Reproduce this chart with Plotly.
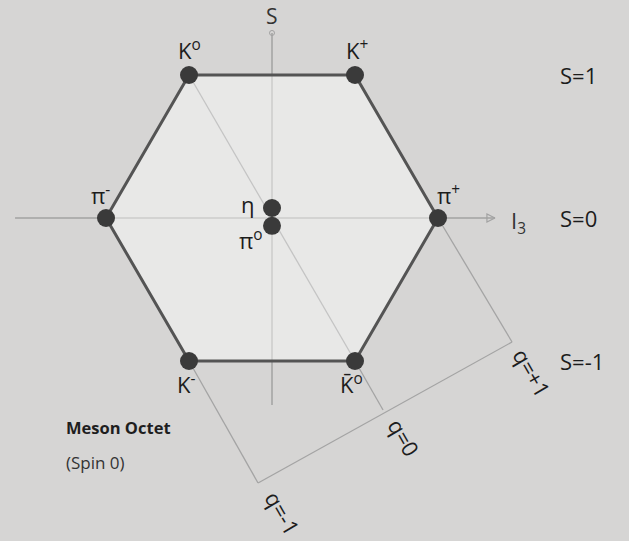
import plotly.graph_objects as go

# Meson octet (spin 0): isospin I3, strangeness S
names = ["K<sup>o</sup>", "K<sup>+</sup>", "π<sup>-</sup>", "π<sup>+</sup>", "η", "π<sup>o</sup>", "K<sup>-</sup>", "K\u0304<sup>o</sup>"]
i3 = [-0.5, 0.5, -1.0, 1.0, 0.0, 0.0, -0.5, 0.5]
strange = [1, 1, 0, 0, 0.07, -0.055, -1, -1]
hex_order = [0, 1, 3, 7, 6, 2, 0]

s_levels = [1, 0, -1]
s_labels = ["S=1", "S=0", "S=-1"]

q_labels = ["q=+1", "q=0", "q=-1"]
q_from = [3, 7, 6]               # meson where each charge line starts
q_corner_i3 = [1.446, 0.669, -0.084]
q_corner_s = [-0.867, -1.343, -1.853]

label_shift = [(0, 26), (2, 26), (-6, 24), (10, 24), (-24, 4), (-21, -14), (-3, -22), (-4, -22)]

BG = "#d6d5d4"
AX = "#a2a2a2"
FONT = "Open Sans"
TXT = "#1c1c1c"

fig = go.Figure()

# axes
fig.add_trace(go.Scatter(x=[-1.548, 1.343], y=[0, 0], mode="lines",
                         line=dict(color=AX, width=1.5), hoverinfo="skip"))
fig.add_trace(go.Scatter(x=[0, 0], y=[-1.308, 1.294], mode="lines",
                         line=dict(color=AX, width=1.5), hoverinfo="skip"))
fig.add_trace(go.Scatter(x=[1.343], y=[0], mode="markers",
                         marker=dict(symbol="arrow-right-open", size=8, color=AX,
                                     line=dict(color=AX, width=1.2)), hoverinfo="skip"))
fig.add_trace(go.Scatter(x=[0], y=[1.294], mode="markers",
                         marker=dict(symbol="circle-open", size=5, color=AX,
                                     line=dict(color=AX, width=1)), hoverinfo="skip"))

# hexagon
fig.add_trace(go.Scatter(x=[i3[k] for k in hex_order], y=[strange[k] for k in hex_order],
                         mode="lines", fill="toself", fillcolor="rgba(255,255,255,0.45)",
                         line=dict(color="#545454", width=3), hoverinfo="skip"))

# diagonal K0 -> anti-K0
fig.add_trace(go.Scatter(x=[i3[0], i3[7]], y=[strange[0], strange[7]], mode="lines",
                         line=dict(color="#c4c4c4", width=1.3), hoverinfo="skip"))

# charge lines
for k in range(3):
    m = q_from[k]
    fig.add_trace(go.Scatter(x=[i3[m], q_corner_i3[k]], y=[strange[m], q_corner_s[k]],
                             mode="lines", line=dict(color="#a4a4a4", width=1.3), hoverinfo="skip"))
fig.add_trace(go.Scatter(x=[q_corner_i3[0], q_corner_i3[2]], y=[q_corner_s[0], q_corner_s[2]],
                         mode="lines", line=dict(color="#a4a4a4", width=1.3), hoverinfo="skip"))

# mesons
fig.add_trace(go.Scatter(x=i3, y=strange, mode="markers",
                         marker=dict(size=18, color="#3a3a3a"), hoverinfo="skip"))

ann = []
for k, n in enumerate(names):
    dx, dy = label_shift[k]
    ann.append(dict(x=i3[k], y=strange[k], text=n, showarrow=False, xshift=dx, yshift=dy,
                    font=dict(family=FONT, size=22, color=TXT)))

ann.append(dict(x=0, y=1.294, text="S", showarrow=False, yshift=17, borderpad=0,
                font=dict(family=FONT, size=21, color="#333")))
ann.append(dict(x=1.343, y=0, text="I<sub>3</sub>", showarrow=False, xshift=24, yshift=-4,
                font=dict(family=FONT, size=22, color="#333")))

for lv, lb in zip(s_levels, s_labels):
    ann.append(dict(x=558 / 629, xref="paper", y=lv, text=lb, showarrow=False, xanchor="left",
                    font=dict(family=FONT, size=22, color=TXT)))

q_shift = [(20, -30), (21, -27), (25, -30)]
for k in range(3):
    ann.append(dict(x=q_corner_i3[k], y=q_corner_s[k], text=q_labels[k], showarrow=False,
                    textangle=60, xshift=q_shift[k][0], yshift=q_shift[k][1],
                    font=dict(family=FONT, size=22, color=TXT)))

ann.append(dict(x=64 / 629, y=1 - 427 / 541, xref="paper", yref="paper", text="<b>Meson Octet</b>",
                showarrow=False, xanchor="left", yanchor="middle",
                font=dict(family=FONT, size=16.5, color="#1e1e1e")))
ann.append(dict(x=64 / 629, y=1 - 462 / 541, xref="paper", yref="paper", text="(Spin 0)",
                showarrow=False, xanchor="left", yanchor="middle",
                font=dict(family=FONT, size=17, color="#333")))

fig.update_layout(
    width=629, height=541, margin=dict(l=0, r=0, t=0, b=0),
    paper_bgcolor=BG, plot_bgcolor=BG, showlegend=False, annotations=ann,
    xaxis=dict(range=[-1.6386, 2.1506], visible=False, fixedrange=True),
    yaxis=dict(range=[-2.2587, 1.5245], visible=False, fixedrange=True),
)

fig.write_html("out.html", config={"displayModeBar": False},
               post_script="document.body.style.margin='0';document.body.style.background='" + BG + "';document.body.style.overflow='hidden';")
